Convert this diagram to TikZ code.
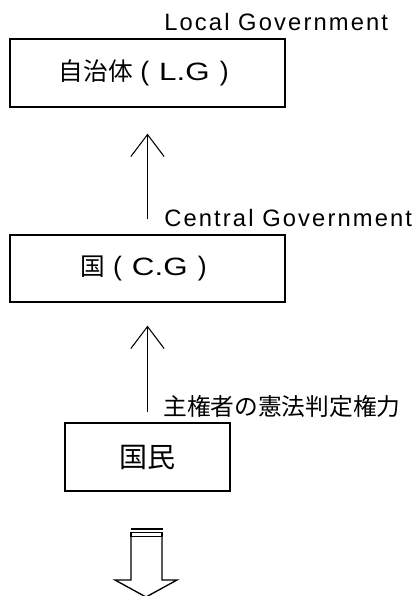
\documentclass[tikz,border=0pt]{standalone}
\usepackage{fontspec}
\setmainfont{Liberation Sans}
\newfontfamily\jp{Noto Sans CJK JP}
\newfontfamily\boxlatin[FakeStretch=1.25]{Liberation Sans}
\newcommand\mylp{\makebox[17.8pt]{\fontsize{20}{20}\selectfont(}\hspace{2pt}}
\newcommand\myrp{\hspace{2pt}\makebox[17.8pt]{\fontsize{20}{20}\selectfont)}}
\usetikzlibrary{arrows.meta}
\tikzset{
  px/.style={x=0.75pt,y=-0.75pt},
  box/.style={draw=black, line width=1pt, rectangle, inner sep=0pt,
    font=\fontsize{18.5}{20}\selectfont},
  conn/.style={draw=black, line width=0.8pt,
    -{Straight Barb[length=16.5pt,width=25pt,line width=0.8pt]}},
  lbl/.style={inner sep=0pt, font=\fontsize{17.8}{20}\selectfont\addfontfeature{LetterSpace=9}},
  jlbl/.style={inner sep=0pt, font=\fontsize{17.8}{20}\selectfont\jp},
  blockarrow/.style={draw=black, line width=1pt, fill=white, line join=miter}
}
\begin{document}
\begin{tikzpicture}[px]
\useasboundingbox (0,0) rectangle (413,596);
\node[box, minimum width=206.25pt, minimum height=51pt] (lg) at (147.5,73)
  {{\jp 自治体}\mylp{\boxlatin\fontsize{18.8}{20}\selectfont L.G}\myrp\hspace{6pt}};
\node[box, minimum width=206.25pt, minimum height=50.25pt] (cg) at (147.5,268.5)
  {{\jp 国}\mylp{\boxlatin\fontsize{18.8}{20}\selectfont C.G}\myrp};
\node[box, minimum width=123.75pt, minimum height=51pt] (people) at (147.5,457)
  {{\jp\fontsize{21}{22}\selectfont 国民}};

\draw[conn, shorten <=11.25pt, shorten >=19.5pt] (cg) -- (lg);
\draw[conn, shorten <=7.5pt, shorten >=17.25pt] (people) -- (cg);

\node[lbl, anchor=base west] (lglbl) at (164,31) {Local Government};
\node[lbl, anchor=base west] (cglbl) at (164,226) {Central Government};
\node[jlbl, anchor=west] (power) at (163,406) {主権者の憲法判定権力};

% block arrow pointing down
\draw[blockarrow] (131,537) -- (131,580) -- (115,580) -- (146,597) -- (177,580) -- (162,580) -- (162,537);
\draw[black, line width=2pt] (130.5,529) -- (162.5,529);
\draw[black, line width=1pt, fill=white] (131,532.5) rectangle (162,536.5);
\end{tikzpicture}
\end{document}
